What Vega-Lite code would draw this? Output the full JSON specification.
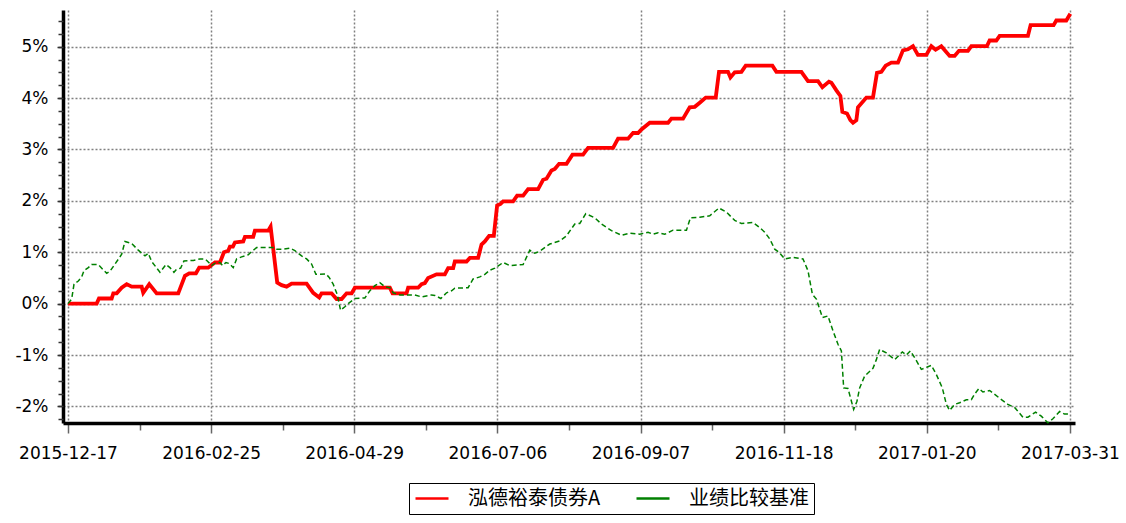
{
  "$schema": "https://vega.github.io/schema/vega-lite/v6.json",
  "autosize": {"type": "none"},
  "width": 1012,
  "height": 413,
  "padding": {"left": 63, "top": 10, "right": 51, "bottom": 100},
  "background": "white",
  "config": {"view": {"stroke": null}, "font": "DejaVu Sans"},
  "resolve": {"axis": {"y": "independent"}, "scale": {"y": "shared"}},
  "datasets": {
    "fund": [
      {"t":0,"v":0},{"t":9.02,"v":0},{"t":9.74,"v":0.1},{"t":13.73,"v":0.1},{"t":14.24,"v":0.2},{"t":15.3,"v":0.2},{"t":16.88,"v":0.31},{"t":18.45,"v":0.38},{"t":20.02,"v":0.33},{"t":23.16,"v":0.33},{"t":23.66,"v":0.21},{"t":25.55,"v":0.38},{"t":27.88,"v":0.2},{"t":34.66,"v":0.2},{"t":36.77,"v":0.54},{"t":38.12,"v":0.59},{"t":40.23,"v":0.59},{"t":41.26,"v":0.7},{"t":44.09,"v":0.7},{"t":46.2,"v":0.8},{"t":47.77,"v":0.8},{"t":49.03,"v":1.0},{"t":50.38,"v":1.03},{"t":50.91,"v":1.11},{"t":51.85,"v":1.11},{"t":52.48,"v":1.19},{"t":55.09,"v":1.21},{"t":55.63,"v":1.3},{"t":58.23,"v":1.3},{"t":58.77,"v":1.42},{"t":62.95,"v":1.42},{"t":63.7,"v":1.5},{"t":65.78,"v":0.41},{"t":67.16,"v":0.36},{"t":68.73,"v":0.33},{"t":70.3,"v":0.39},{"t":75.02,"v":0.39},{"t":77.09,"v":0.21},{"t":78.98,"v":0.12},{"t":79.73,"v":0.2},{"t":82.87,"v":0.2},{"t":84.44,"v":0.09},{"t":86.02,"v":0.09},{"t":87.59,"v":0.2},{"t":89.16,"v":0.2},{"t":90.19,"v":0.31},{"t":101.19,"v":0.31},{"t":102.04,"v":0.2},{"t":106.44,"v":0.2},{"t":106.95,"v":0.31},{"t":110.09,"v":0.31},{"t":111.16,"v":0.38},{"t":112.19,"v":0.4},{"t":113.23,"v":0.5},{"t":115.87,"v":0.57},{"t":118.48,"v":0.57},{"t":119.52,"v":0.69},{"t":121.09,"v":0.69},{"t":121.62,"v":0.82},{"t":125.3,"v":0.82},{"t":126.34,"v":0.89},{"t":128.94,"v":0.89},{"t":130.01,"v":1.15},{"t":131.05,"v":1.21},{"t":132.4,"v":1.32},{"t":133.88,"v":1.32},{"t":134.91,"v":1.91},{"t":135.98,"v":1.94},{"t":136.8,"v":1.99},{"t":139.94,"v":1.99},{"t":141.2,"v":2.1},{"t":143.09,"v":2.1},{"t":144.66,"v":2.23},{"t":147.8,"v":2.23},{"t":149.37,"v":2.41},{"t":150.44,"v":2.43},{"t":152.01,"v":2.59},{"t":153.05,"v":2.62},{"t":154.4,"v":2.72},{"t":156.73,"v":2.72},{"t":158.61,"v":2.9},{"t":161.94,"v":2.9},{"t":163.51,"v":3.03},{"t":171.37,"v":3.03},{"t":172.94,"v":3.21},{"t":176.08,"v":3.21},{"t":177.66,"v":3.32},{"t":179.23,"v":3.32},{"t":180.3,"v":3.39},{"t":182.9,"v":3.52},{"t":188.66,"v":3.52},{"t":189.72,"v":3.6},{"t":193.37,"v":3.6},{"t":195.47,"v":3.82},{"t":197.05,"v":3.83},{"t":198.62,"v":3.91},{"t":200.5,"v":4.01},{"t":203.65,"v":4.01},{"t":204.68,"v":4.51},{"t":207.51,"v":4.51},{"t":208.27,"v":4.4},{"t":209.62,"v":4.5},{"t":211.72,"v":4.51},{"t":213.07,"v":4.63},{"t":221.46,"v":4.63},{"t":222.72,"v":4.51},{"t":230.58,"v":4.51},{"t":232.65,"v":4.33},{"t":235.8,"v":4.33},{"t":237.18,"v":4.21},{"t":239.25,"v":4.32},{"t":240.01,"v":4.3},{"t":241.58,"v":4.15},{"t":242.84,"v":4.04},{"t":243.46,"v":3.73},{"t":244.91,"v":3.7},{"t":245.98,"v":3.57},{"t":246.8,"v":3.52},{"t":247.86,"v":3.57},{"t":248.36,"v":3.82},{"t":251.01,"v":4.01},{"t":253.08,"v":4.01},{"t":254.34,"v":4.49},{"t":255.72,"v":4.51},{"t":257.07,"v":4.63},{"t":258.86,"v":4.69},{"t":260.94,"v":4.69},{"t":262.51,"v":4.93},{"t":264.08,"v":4.95},{"t":265.65,"v":5.01},{"t":267.22,"v":4.84},{"t":269.86,"v":4.84},{"t":271.43,"v":5.01},{"t":272.78,"v":4.94},{"t":274.57,"v":5.01},{"t":277.18,"v":4.82},{"t":278.76,"v":4.82},{"t":280.11,"v":4.92},{"t":282.94,"v":4.92},{"t":284.01,"v":5.01},{"t":288.91,"v":5.01},{"t":289.76,"v":5.12},{"t":291.86,"v":5.12},{"t":292.9,"v":5.21},{"t":301.79,"v":5.21},{"t":302.64,"v":5.42},{"t":309.87,"v":5.42},{"t":310.72,"v":5.51},{"t":313.86,"v":5.51},{"t":315.12,"v":5.64}
    ],
    "bench": [
      {"t":0,"v":0},{"t":1.16,"v":0.09},{"t":1.89,"v":0.38},{"t":3.24,"v":0.44},{"t":4.31,"v":0.52},{"t":5.03,"v":0.64},{"t":6.38,"v":0.7},{"t":7.45,"v":0.76},{"t":9.52,"v":0.76},{"t":10.9,"v":0.67},{"t":12.16,"v":0.59},{"t":13.2,"v":0.63},{"t":14.77,"v":0.77},{"t":16.88,"v":0.96},{"t":17.91,"v":1.21},{"t":20.02,"v":1.17},{"t":22.09,"v":1.04},{"t":24.2,"v":0.93},{"t":25.24,"v":0.98},{"t":26.3,"v":0.82},{"t":28.91,"v":0.61},{"t":30.8,"v":0.76},{"t":32.06,"v":0.7},{"t":33.31,"v":0.61},{"t":34.16,"v":0.67},{"t":35.42,"v":0.69},{"t":36.45,"v":0.83},{"t":39.38,"v":0.84},{"t":41.48,"v":0.87},{"t":43.05,"v":0.87},{"t":43.78,"v":0.83},{"t":45.16,"v":0.74},{"t":46.51,"v":0.8},{"t":47.77,"v":0.8},{"t":48.62,"v":0.74},{"t":49.65,"v":0.8},{"t":50.69,"v":0.78},{"t":51.95,"v":0.7},{"t":53.02,"v":0.87},{"t":54.59,"v":0.91},{"t":56.66,"v":0.95},{"t":58.04,"v":1.03},{"t":59.3,"v":1.09},{"t":64.33,"v":1.09},{"t":65.59,"v":1.06},{"t":67.66,"v":1.06},{"t":69.77,"v":1.08},{"t":71.34,"v":1.03},{"t":73.44,"v":0.93},{"t":75.02,"v":0.87},{"t":76.59,"v":0.77},{"t":77.94,"v":0.57},{"t":79.19,"v":0.57},{"t":81.08,"v":0.58},{"t":82.12,"v":0.51},{"t":83.37,"v":0.38},{"t":84.63,"v":0.18},{"t":85.7,"v":-0.13},{"t":87.05,"v":-0.06},{"t":88.09,"v":0},{"t":90.19,"v":0.1},{"t":93.34,"v":0.11},{"t":94.91,"v":0.25},{"t":96.48,"v":0.35},{"t":98.05,"v":0.41},{"t":99.62,"v":0.33},{"t":101.19,"v":0.31},{"t":102.23,"v":0.21},{"t":104.34,"v":0.17},{"t":107.48,"v":0.17},{"t":109.05,"v":0.17},{"t":111.16,"v":0.13},{"t":114.3,"v":0.17},{"t":115.34,"v":0.16},{"t":117.22,"v":0.1},{"t":119.01,"v":0.21},{"t":120.58,"v":0.25},{"t":121.62,"v":0.3},{"t":125.8,"v":0.31},{"t":127.37,"v":0.48},{"t":129.48,"v":0.52},{"t":131.05,"v":0.57},{"t":132.62,"v":0.65},{"t":134.19,"v":0.69},{"t":136.8,"v":0.8},{"t":138.91,"v":0.74},{"t":143.09,"v":0.76},{"t":145.19,"v":1.04},{"t":146.76,"v":0.98},{"t":148.33,"v":1.02},{"t":151.48,"v":1.16},{"t":154.62,"v":1.22},{"t":156.73,"v":1.32},{"t":159.33,"v":1.55},{"t":160.9,"v":1.56},{"t":162.79,"v":1.75},{"t":165.62,"v":1.67},{"t":167.72,"v":1.55},{"t":170.87,"v":1.42},{"t":174.01,"v":1.33},{"t":176.62,"v":1.37},{"t":179.76,"v":1.35},{"t":182.37,"v":1.39},{"t":183.94,"v":1.35},{"t":185.51,"v":1.38},{"t":187.62,"v":1.35},{"t":190.23,"v":1.43},{"t":194.44,"v":1.43},{"t":195.69,"v":1.67},{"t":198.62,"v":1.68},{"t":201.76,"v":1.71},{"t":204.68,"v":1.86},{"t":207.01,"v":1.78},{"t":209.62,"v":1.62},{"t":211.72,"v":1.56},{"t":215.37,"v":1.58},{"t":217.47,"v":1.48},{"t":219.05,"v":1.39},{"t":220.62,"v":1.26},{"t":222.19,"v":1.06},{"t":223.54,"v":1.0},{"t":225.33,"v":0.87},{"t":227.94,"v":0.9},{"t":231.08,"v":0.87},{"t":232.65,"v":0.64},{"t":234.04,"v":0.18},{"t":235.29,"v":0.09},{"t":237.18,"v":-0.27},{"t":238.94,"v":-0.24},{"t":240.51,"v":-0.53},{"t":242.08,"v":-0.79},{"t":243.15,"v":-0.92},{"t":243.87,"v":-1.64},{"t":245.22,"v":-1.65},{"t":247.01,"v":-2.06},{"t":248.05,"v":-1.9},{"t":248.9,"v":-1.64},{"t":250.47,"v":-1.41},{"t":253.08,"v":-1.26},{"t":254.15,"v":-1.09},{"t":255.18,"v":-0.89},{"t":257.29,"v":-0.96},{"t":259.9,"v":-1.09},{"t":262.32,"v":-0.94},{"t":263.58,"v":-1.0},{"t":264.83,"v":-0.92},{"t":266.18,"v":-1.05},{"t":268.29,"v":-1.28},{"t":269.86,"v":-1.24},{"t":271.43,"v":-1.2},{"t":273.01,"v":-1.38},{"t":274.89,"v":-1.64},{"t":276.15,"v":-1.96},{"t":277.18,"v":-2.08},{"t":278.76,"v":-1.96},{"t":280.33,"v":-1.93},{"t":282.43,"v":-1.87},{"t":284.01,"v":-1.87},{"t":285.04,"v":-1.76},{"t":286.39,"v":-1.65},{"t":287.65,"v":-1.72},{"t":289.76,"v":-1.69},{"t":292.9,"v":-1.84},{"t":295.51,"v":-1.96},{"t":297.61,"v":-2.02},{"t":300.22,"v":-2.21},{"t":301.79,"v":-2.21},{"t":304.21,"v":-2.11},{"t":306.0,"v":-2.19},{"t":308.08,"v":-2.32},{"t":309.65,"v":-2.24},{"t":311.76,"v":-2.1},{"t":313.33,"v":-2.15},{"t":314.9,"v":-2.15}
    ]
  },
  "layer": [
    {
      "data": {"name": "fund"},
      "mark": {"type": "line", "strokeWidth": 3.8, "strokeJoin": "miter"},
      "encoding": {
        "x": {
          "field": "t", "type": "quantitative",
          "scale": {"domain": [-1.57, 316.6], "nice": false, "zero": false},
          "axis": {
            "title": null,
            "values": [0,11.25,22.5,33.75,45,56.25,67.5,78.75,90,101.25,112.5,123.75,135,146.25,157.5,168.75,180,191.25,202.5,213.75,225,236.25,247.5,258.75,270,281.25,292.5,303.75,315],
            "labelExpr": "datum.value % 45 === 0 ? ['2015-12-17','2016-02-25','2016-04-29','2016-07-06','2016-09-07','2016-11-18','2017-01-20','2017-03-31'][round(datum.value / 45)] : ''",
            "labelOverlap": false, "labelFlush": false, "labelBound": false,
            "labelFont": "DejaVu Sans", "labelFontSize": 17, "labelColor": "#000",
            "labelPadding": 12,
            "domainColor": "#000", "domainWidth": 3.5,
            "tickColor": "#666", "tickWidth": 1.5,
            "tickSize": {"condition": {"test": "datum.value % 45 === 0", "value": 10}, "value": 7},
            "grid": true, "gridColor": "#808080", "gridDash": [2, 2], "gridWidth": 1.5,
            "gridOpacity": {"condition": {"test": "datum.value % 45 === 0", "value": 1}, "value": 0}
          }
        },
        "y": {
          "field": "v", "type": "quantitative",
          "scale": {"domain": [-2.323, 5.714], "nice": false, "zero": false},
          "axis": {
            "title": null, "orient": "left",
            "values": [-2, -1, 0, 1, 2, 3, 4, 5],
            "labelExpr": "datum.value + '%'",
            "labelOverlap": false, "labelFlush": false, "labelBound": false,
            "labelFont": "DejaVu Sans", "labelFontSize": 17, "labelColor": "#000",
            "labelPadding": 9,
            "domainColor": "#000", "domainWidth": 3.5,
            "tickColor": "#333", "tickWidth": 1.5, "tickSize": 6,
            "grid": true, "gridColor": "#808080", "gridDash": [2, 2], "gridWidth": 1.3
          }
        },
        "color": {
          "datum": "泓德裕泰债券A",
          "scale": {"domain": ["泓德裕泰债券A", "业绩比较基准"], "range": ["#ff0000", "#008000"]},
          "legend": {
            "title": null, "orient": "none", "legendX": 346, "legendY": 473,
            "direction": "horizontal",
            "strokeColor": "#000", "fillColor": "#fff", "padding": 5,
            "clipHeight": 21,
            "symbolType": "stroke", "symbolSize": 1089, "symbolStrokeWidth": 2.5, "symbolDash": [],
            "labelFont": "Noto Sans CJK SC", "labelFontSize": 20, "labelColor": "#000",
            "labelOffset": 18, "columnPadding": 34
          }
        }
      }
    },
    {
      "data": {"name": "bench"},
      "mark": {"type": "line", "strokeWidth": 1.5, "strokeDash": [5, 3]},
      "encoding": {
        "x": {"field": "t", "type": "quantitative"},
        "y": {
          "field": "v", "type": "quantitative",
          "axis": {
            "title": null, "orient": "left",
            "values": [-2.25,-2,-1.75,-1.5,-1.25,-1,-0.75,-0.5,-0.25,0,0.25,0.5,0.75,1,1.25,1.5,1.75,2,2.25,2.5,2.75,3,3.25,3.5,3.75,4,4.25,4.5,4.75,5,5.25,5.5],
            "labels": false, "grid": false, "domain": false,
            "tickColor": "#333", "tickWidth": 1.5, "tickSize": 5
          }
        },
        "color": {"datum": "业绩比较基准"}
      }
    }
  ]
}
